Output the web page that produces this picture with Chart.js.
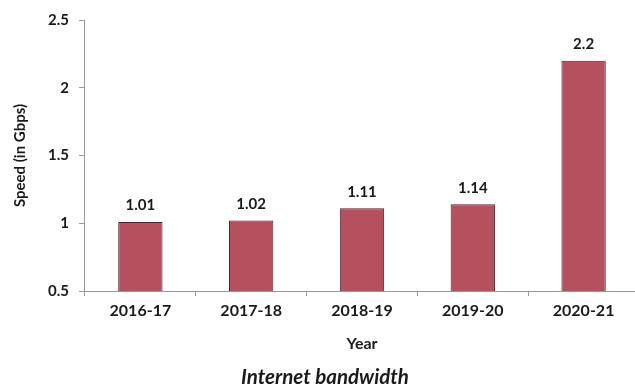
<!DOCTYPE html>
<html><head><meta charset="utf-8">
<script src="https://cdn.jsdelivr.net/npm/chart.js@4"></script>
<style>html,body{margin:0;padding:0;overflow:hidden;background:#fff}</style>
</head><body>
<canvas id="c" width="642" height="390"></canvas>
<script>
const categories = ["2016-17","2017-18","2018-19","2019-20","2020-21"];
const speeds = [1.01, 1.02, 1.11, 1.14, 2.2];
const valueLabels = ["1.01","1.02","1.11","1.14","2.2"];
const yTicks = [0.5, 1, 1.5, 2, 2.5];

const FONT = "Lato, 'Open Sans', sans-serif";

const labelPlugin = {
  id: 'valLabels',
  afterDatasetsDraw(chart) {
    const ctx = chart.ctx;
    const meta = chart.getDatasetMeta(0);
    ctx.save();
    ctx.font = "bold 15px " + FONT;
    ctx.fillStyle = "#1a1a1a";
    ctx.textAlign = "center";
    ctx.textBaseline = "bottom";
    meta.data.forEach((bar, i) => {
      ctx.fillText(valueLabels[i], bar.x, bar.y - 9);
    });
    ctx.restore();
  }
};

new Chart(document.getElementById('c'), {
  type: 'bar',
  data: {
    labels: categories,
    datasets: [{
      data: speeds,
      backgroundColor: '#b5505f',
      borderColor: '#4a2228',
      borderWidth: 1,
      borderSkipped: false,
      barPercentage: 0.4,
      categoryPercentage: 1.0
    }]
  },
  options: {
    responsive: false,
    animation: false,
    layout: { padding: { top: 20, right: 3, left: 11, bottom: 0 } },
    plugins: {
      legend: { display: false },
      tooltip: { enabled: false },
      title: {
        display: true,
        position: 'bottom',
        text: 'Internet bandwidth',
        color: '#1a1a1a',
        font: { family: FONT, size: 20.5, weight: 'bold', style: 'italic' },
        padding: { top: 12, bottom: 0 }
      }
    },
    scales: {
      x: {
        grid: { display: true, drawOnChartArea: false, drawTicks: true, tickLength: 5, color: '#999', offset: true },
        border: { display: true, color: '#999', width: 1, dash: [3, 2] },
        ticks: { color: '#1a1a1a', font: { family: FONT, size: 16, weight: 'bold' }, padding: 5, maxRotation: 0 },
        title: { display: true, text: 'Year', color: '#1a1a1a', font: { family: FONT, size: 16, weight: 'bold' }, padding: { top: 9, bottom: 0 } }
      },
      y: {
        min: 0.5, max: 2.5,
        afterBuildTicks(scale) { scale.ticks = yTicks.map(v => ({ value: v })); },
        grid: { display: true, drawOnChartArea: false, drawTicks: true, tickLength: 6, color: '#999' },
        border: { display: true, color: '#999', width: 1, dash: [3, 2] },
        ticks: { color: '#1a1a1a', font: { family: FONT, size: 15, weight: 'bold' }, padding: 10,
                 callback: v => String(v) },
        title: { display: true, text: 'Speed (in Gbps)', color: '#1a1a1a', font: { family: FONT, size: 15, weight: 'bold' }, padding: { top: 0, bottom: 9 } }
      }
    }
  },
  plugins: [labelPlugin]
});
</script>
</body></html>
